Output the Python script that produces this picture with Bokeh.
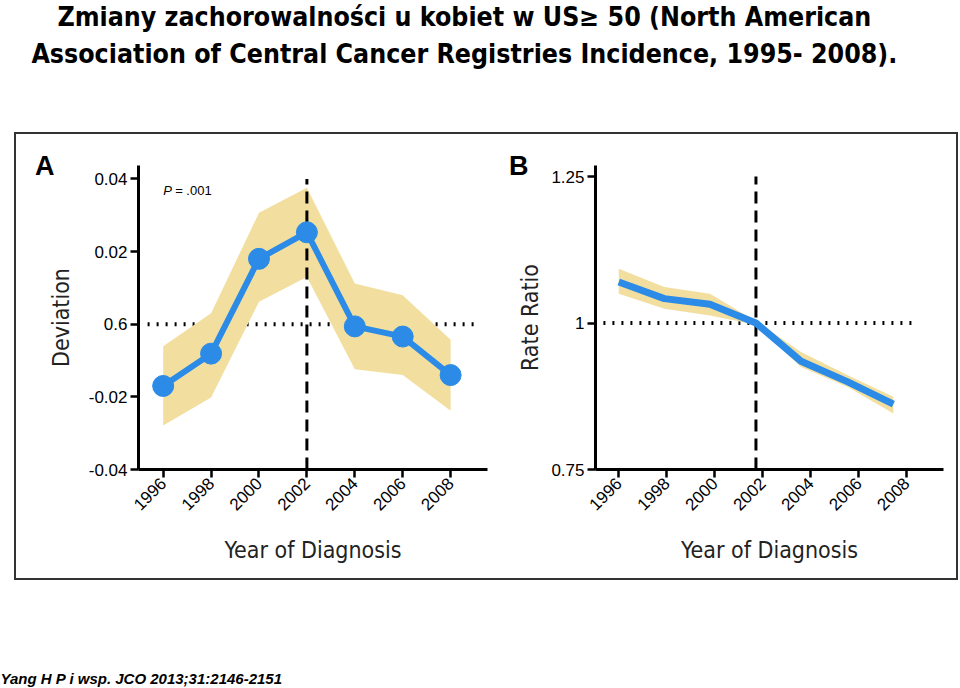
import math
from bokeh.plotting import figure
from bokeh.models import Range1d, FixedTicker, Label, LinearAxis
from bokeh.layouts import column, row
from bokeh.embed import file_html
from bokeh.resources import INLINE

# ---------------- data ----------------
title_line1 = "Zmiany zachorowalności u kobiet w US≥ 50  (North American"
title_line2 = "Association of Central Cancer Registries Incidence, 1995-  2008)."
footnote = "Yang H P i wsp. JCO 2013;31:2146-2151"

# Panel A: deviation
years_a = [1996, 1998, 2000, 2002, 2004, 2006, 2008]
deviation = [-0.017, -0.0081, 0.018, 0.0253, -0.0006, -0.0034, -0.014]
dev_upper = [-0.0061, 0.003, 0.0307, 0.0376, 0.0112, 0.008, -0.0043]
dev_lower = [-0.0279, -0.0202, 0.0062, 0.013, -0.0124, -0.014, -0.0238]
dev_ticks = [-0.04, -0.02, 0, 0.02, 0.04]
dev_tick_labels = ["-0.04", "-0.02", "0.6", "0.02", "0.04"]
ref_a_x = [1995.35, 2008.96]
ref_a_y = 0
cut_a_x = 2002
cut_a_y = [-0.04, 0.04]

# Panel B: rate ratio
years_b = [1996.0, 1997.9, 1999.8, 2001.72, 2003.6, 2005.55, 2007.45]
rate_ratio = [1.0699, 1.0416, 1.032, 1.0, 0.9347, 0.8995, 0.8615]
rr_upper = [1.0927, 1.0614, 1.05, 1.003, 0.9506, 0.911, 0.874]
rr_lower = [1.05, 1.0245, 1.013, 0.997, 0.925, 0.891, 0.8456]
rr_ticks = [0.75, 1, 1.25]
rr_tick_labels = ["0.75", "1", "1.25"]
ref_b_x = [1995.36, 2008.25]
ref_b_y = 1
cut_b_x = 2001.72
cut_b_y = [0.75, 1.25]

year_ticks = [1996, 1998, 2000, 2002, 2004, 2006, 2008]

# panel letters sit level with the top of each y axis
letter_a_y = 0.0436
letter_b_y = 1.2685

BAND = "#F2DFA0"
BLUE = "#2B8BE6"
TICK_FONT = "Liberation Sans"
LABEL_FONT = "DejaVu Sans Condensed"
TITLE_FONT = "DejaVu Sans Condensed"


def make_panel(width, height, xr, yr, bl, br, bt, bb, yticks, ylabels, ylabel, ystand):
    p = figure(width=width, height=height, x_range=Range1d(*xr), y_range=Range1d(*yr),
               output_backend="svg", toolbar_location=None,
               min_border_left=bl, min_border_right=br,
               min_border_top=bt, min_border_bottom=bb)
    p.outline_line_color = None
    p.grid.visible = False
    p.background_fill_color = "white"
    p.border_fill_color = "white"
    p.xaxis.ticker = FixedTicker(ticks=year_ticks)
    p.xaxis.major_label_overrides = {y: str(y) for y in year_ticks}
    p.xaxis.major_label_orientation = math.pi / 4
    p.yaxis.ticker = FixedTicker(ticks=yticks)
    p.yaxis.major_label_overrides = {t: l for t, l in zip(yticks, ylabels)}
    p.axis.axis_line_width = 3
    p.axis.axis_line_color = "black"
    p.axis.major_tick_line_width = 2.5
    p.axis.major_tick_line_color = "black"
    p.axis.major_tick_out = 8
    p.axis.major_tick_in = 0
    p.axis.minor_tick_line_color = None
    p.axis.major_label_text_font = TICK_FONT
    p.axis.major_label_text_font_size = "17px"
    p.axis.major_label_text_color = "black"
    p.axis.major_label_standoff = 3
    p.axis.axis_label_text_font = LABEL_FONT
    p.axis.axis_label_text_font_size = "23px"
    p.axis.axis_label_text_font_style = "normal"
    p.axis.axis_label_text_color = "#222222"
    p.xaxis.axis_label = "Year of Diagnosis"
    p.xaxis.axis_label_standoff = 18
    p.yaxis.axis_label = ylabel
    p.yaxis.axis_label_standoff = ystand
    return p


def letter_axis(p, yval, letter, standoff):
    ax = LinearAxis(ticker=FixedTicker(ticks=[yval]),
                    major_label_overrides={yval: letter},
                    axis_line_color=None, major_tick_line_color=None,
                    minor_tick_line_color=None, major_tick_out=0, major_tick_in=0,
                    major_label_standoff=standoff,
                    major_label_text_font=TICK_FONT, major_label_text_font_size="27px",
                    major_label_text_font_style="bold", major_label_text_color="black")
    p.add_layout(ax, "left")


# ---------------- panel A ----------------
pa = make_panel(474, 444, (1994.97, 2009.54), (-0.04, 0.0437), 122, 3, 29, 108,
                dev_ticks, dev_tick_labels, "Deviation", 12)
pa.segment(x0=ref_a_x[0], y0=ref_a_y, x1=ref_a_x[1], y1=ref_a_y,
           line_color="black", line_width=4, line_dash="2 7")
pa.varea(x=years_a, y1=dev_lower, y2=dev_upper, fill_color=BAND)
pa.segment(x0=cut_a_x, y0=cut_a_y[0], x1=cut_a_x, y1=cut_a_y[1],
           line_color="black", line_width=3, line_dash="12 7")
pa.line(years_a, deviation, line_color=BLUE, line_width=6)
pa.scatter(years_a, deviation, size=21, fill_color=BLUE, line_color=BLUE)
letter_axis(pa, letter_a_y, "A", -10)
pa.add_layout(Label(x=1996.0, y=0.0369, text="P", text_font=TICK_FONT,
                    text_font_size="13px", text_font_style="italic",
                    text_baseline="alphabetic", text_color="black"))
pa.add_layout(Label(x=1996.5, y=0.0369, text="= .001", text_font=TICK_FONT,
                    text_font_size="13px", text_baseline="alphabetic", text_color="black"))

# ---------------- panel B ----------------
pb = make_panel(466, 444, (1995.03, 2009.54), (0.75, 1.2688), 105, 13, 31, 109,
                rr_ticks, rr_tick_labels, "Rate Ratio", 5)
pb.segment(x0=ref_b_x[0], y0=ref_b_y, x1=ref_b_x[1], y1=ref_b_y,
           line_color="black", line_width=4, line_dash="2 7")
pb.varea(x=years_b, y1=rr_lower, y2=rr_upper, fill_color=BAND)
pb.segment(x0=cut_b_x, y0=cut_b_y[0], x1=cut_b_x, y1=cut_b_y[1],
           line_color="black", line_width=3, line_dash="12 7")
pb.line(years_b, rate_ratio, line_color=BLUE, line_width=7)
letter_axis(pb, letter_b_y, "B", -14)

# ---------------- title & footnote ----------------
def blank(width, height):
    f = figure(width=width, height=height, x_range=Range1d(0, 1), y_range=Range1d(0, 1),
               x_axis_type=None, y_axis_type=None, output_backend="svg",
               toolbar_location=None, min_border=0)
    f.outline_line_color = None
    f.background_fill_color = "white"
    f.border_fill_color = "white"
    return f

tf = blank(960, 132)
for txt, yy in ((title_line1, 116), (title_line2, 79)):
    tf.add_layout(Label(x=468, y=yy, x_units="screen", y_units="screen", text=txt,
                        text_font=TITLE_FONT, text_font_size="26.5px", text_font_style="bold",
                        text_align="center", text_baseline="alphabetic", text_color="black"))

ff = blank(960, 108)
ff.add_layout(Label(x=0, y=10, x_units="screen", y_units="screen", text=footnote,
                    text_font=TICK_FONT, text_font_size="15px", text_font_style="bold italic",
                    text_baseline="alphabetic", text_color="black"))

panels = row(pa, pb, margin=(0, 0, 0, 14), styles={"border": "2px solid #333333"})
layout = column(tf, panels, ff)

open("out.html", "w").write(file_html(layout, INLINE))
